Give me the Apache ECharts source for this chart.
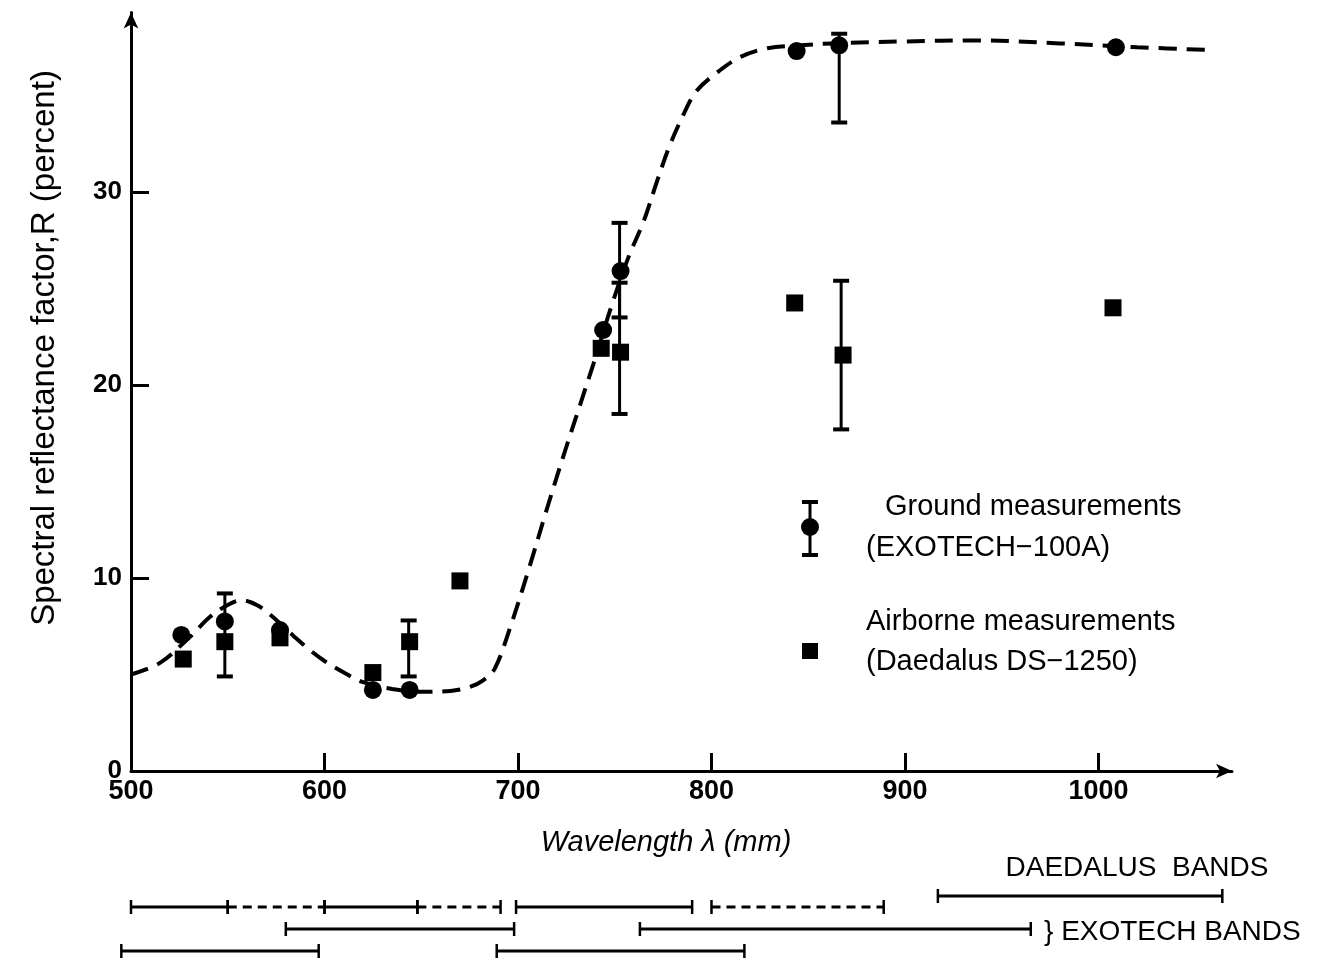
<!DOCTYPE html>
<html><head><meta charset="utf-8">
<script src="https://cdn.jsdelivr.net/npm/echarts@6/dist/echarts.min.js"></script>
<style>html,body{margin:0;padding:0;background:#fff}#c{width:1321px;height:963px}</style>
</head><body><div id="c"></div>
<script>
// ---------------- data ----------------
const curveWavelength  = [500, 515, 530, 541, 550, 557, 565, 572, 584, 592, 600, 610, 620, 635, 650, 665, 675, 682, 688, 696, 706, 715, 725, 739, 748, 757, 765, 772, 778, 785, 792, 803, 815, 829, 846, 863, 900, 937, 980, 1020, 1060];
const curveReflectance = [5.0, 5.6, 6.9, 8.0, 8.6, 8.85, 8.6, 8.1, 7.0, 6.3, 5.7, 5.1, 4.6, 4.25, 4.1, 4.15, 4.35, 4.7, 5.3, 7.45, 10.6, 13.6, 16.8, 21.1, 24.0, 26.6, 28.5, 30.6, 32.3, 33.9, 35.2, 36.2, 37.0, 37.45, 37.6, 37.7, 37.8, 37.85, 37.7, 37.5, 37.35];

const groundWavelength  = [526, 548.5, 577, 625, 644, 744, 753, 844, 866, 1009];
const groundReflectance = [7.05, 7.75, 7.3, 4.2, 4.2, 22.85, 25.9, 37.3, 37.6, 37.5];

const airborneWavelength  = [527, 548.5, 577, 625, 644, 670, 743, 753, 843, 868, 1007.5];
const airborneReflectance = [5.8, 6.7, 6.9, 5.1, 6.7, 9.85, 21.9, 21.7, 24.25, 21.55, 24.0];

const errorWavelength = [548.5, 643.5, 752.5, 752.5, 866, 867];
const errorLow        = [4.9, 4.9, 18.5, 23.5, 33.6, 17.7];
const errorHigh       = [9.2, 7.8, 28.4, 25.3, 38.2, 25.4];

const xTickLabels = [500, 600, 700, 800, 900, 1000];
const yTickLabels = [0, 10, 20, 30];

const daedalusStart = [500, 550, 600, 648, 699, 800, 917];
const daedalusEnd   = [550, 600, 648, 691, 790, 889, 1064];
const daedalusRow   = [1, 1, 1, 1, 1, 1, 0.5];

const exotechStart = [580, 763, 495, 689];
const exotechEnd   = [698, 965, 597, 817];
const exotechRow   = [2, 2, 3, 3];

// ---------------- styles ----------------
const daedalusLineType = ['solid', 'dashed', 'solid', 'dashed', 'solid', 'dashed', 'solid'];
const FONT = 'Liberation Sans, Arial, sans-serif';
const BLACK = '#000';

const chart = echarts.init(document.getElementById('c'), null, {renderer: 'canvas'});

const curveData = curveWavelength.map((x, i) => [x, curveReflectance[i]]);
const groundData = groundWavelength.map((x, i) => [x, groundReflectance[i]]);
const airborneData = airborneWavelength.map((x, i) => [x, airborneReflectance[i]]);
const errorData = errorWavelength.map((x, i) => [x, errorLow[i], errorHigh[i]]);
const bandData = [];
daedalusStart.forEach((s, i) => bandData.push([s, daedalusEnd[i], daedalusRow[i], daedalusLineType[i] === 'dashed' ? 1 : 0]));
exotechStart.forEach((s, i) => bandData.push([s, exotechEnd[i], exotechRow[i], 0]));

const XMIN = 500, XMAX = 1069;

function renderError(params, api) {
  const x = api.value(0);
  const lo = api.coord([x, api.value(1)]);
  const hi = api.coord([x, api.value(2)]);
  const cw = 8;
  const st = {stroke: BLACK, lineWidth: 3};
  return {type: 'group', children: [
    {type: 'line', shape: {x1: lo[0], y1: lo[1], x2: hi[0], y2: hi[1]}, style: st},
    {type: 'line', shape: {x1: lo[0] - cw, y1: lo[1], x2: lo[0] + cw, y2: lo[1]}, style: {stroke: BLACK, lineWidth: 4}},
    {type: 'line', shape: {x1: hi[0] - cw, y1: hi[1], x2: hi[0] + cw, y2: hi[1]}, style: {stroke: BLACK, lineWidth: 4}}
  ]};
}

function renderBand(params, api) {
  const a = api.coord([api.value(0), api.value(2)]);
  const b = api.coord([api.value(1), api.value(2)]);
  const dashed = api.value(3) === 1;
  const th = 7;
  return {type: 'group', children: [
    {type: 'line', shape: {x1: a[0], y1: a[1], x2: b[0], y2: b[1]},
      style: {stroke: BLACK, lineWidth: 3, lineDash: dashed ? [9, 6] : null}},
    {type: 'line', shape: {x1: a[0], y1: a[1] - th, x2: a[0], y2: a[1] + th}, style: {stroke: BLACK, lineWidth: 2.5}},
    {type: 'line', shape: {x1: b[0], y1: b[1] - th, x2: b[0], y2: b[1] + th}, style: {stroke: BLACK, lineWidth: 2.5}}
  ]};
}

const option = {
  backgroundColor: '#fff',
  animation: false,
  grid: [
    {left: 131, right: 1321 - 1232, top: 12.5, bottom: 963 - 771, containLabel: false},
    {left: 131, right: 1321 - 1232, top: 885, height: 77}
  ],
  xAxis: [
    {
      type: 'value', gridIndex: 0, min: XMIN, max: XMAX, interval: 100,
      axisLine: {show: true, lineStyle: {color: BLACK, width: 3}, symbol: ['none', 'arrow'], symbolSize: [11, 16]},
      axisTick: {show: true, inside: true, length: 18, lineStyle: {color: BLACK, width: 3}, customValues: [600, 700, 800, 900, 1000]},
      axisLabel: {customValues: xTickLabels, color: BLACK, fontSize: 27, fontWeight: 'bold', fontFamily: FONT, margin: 7,
        formatter: v => String(v)},
      splitLine: {show: false}
    },
    {
      type: 'value', gridIndex: 1, min: XMIN, max: XMAX, show: false
    }
  ],
  yAxis: [
    {
      type: 'value', gridIndex: 0, min: 0, max: 39.3, interval: 10,
      axisLine: {show: true, lineStyle: {color: BLACK, width: 3}, symbol: ['none', 'arrow'], symbolSize: [11, 16]},
      axisTick: {show: true, inside: true, length: 18, lineStyle: {color: BLACK, width: 3}, customValues: [10, 20, 30]},
      axisLabel: {customValues: yTickLabels, color: BLACK, fontSize: 26, fontWeight: 'bold', fontFamily: FONT, margin: 9,
        formatter: v => String(v)},
      splitLine: {show: false}
    },
    {
      type: 'value', gridIndex: 1, min: 0, max: 3.5, inverse: true, show: false
    }
  ],
  graphic: [
    {type: 'text', x: 45, y: 348, rotation: Math.PI / 2,
      style: {text: 'Spectral reflectance factor,R (percent)', font: '33px ' + FONT, fill: BLACK, align: 'center', verticalAlign: 'middle'}},
    {type: 'text', x: 666, y: 843,
      style: {text: 'Wavelength \u03bb (mm)', font: 'italic 29px ' + FONT, fill: BLACK, align: 'center', verticalAlign: 'middle'}},
    // legend keys
    {type: 'line', shape: {x1: 810, y1: 502, x2: 810, y2: 555}, style: {stroke: BLACK, lineWidth: 3}},
    {type: 'line', shape: {x1: 802, y1: 502, x2: 818, y2: 502}, style: {stroke: BLACK, lineWidth: 4}},
    {type: 'line', shape: {x1: 802, y1: 555, x2: 818, y2: 555}, style: {stroke: BLACK, lineWidth: 4}},
    {type: 'circle', shape: {cx: 810, cy: 527, r: 9}, style: {fill: BLACK}},
    {type: 'rect', shape: {x: 802, y: 643, width: 16, height: 16}, style: {fill: BLACK}},
    {type: 'text', x: 885, y: 507, style: {text: 'Ground measurements', font: '29px ' + FONT, fill: BLACK, align: 'left', verticalAlign: 'middle'}},
    {type: 'text', x: 866, y: 548, style: {text: '(EXOTECH\u2212100A)', font: '29px ' + FONT, fill: BLACK, align: 'left', verticalAlign: 'middle'}},
    {type: 'text', x: 866, y: 622, style: {text: 'Airborne measurements', font: '29px ' + FONT, fill: BLACK, align: 'left', verticalAlign: 'middle'}},
    {type: 'text', x: 866, y: 662, style: {text: '(Daedalus DS\u22121250)', font: '29px ' + FONT, fill: BLACK, align: 'left', verticalAlign: 'middle'}},
    {type: 'text', x: 1137, y: 868, style: {text: 'DAEDALUS  BANDS', font: '28px ' + FONT, fill: BLACK, align: 'center', verticalAlign: 'middle'}},
    {type: 'text', x: 1044, y: 932, style: {text: '} EXOTECH BANDS', font: '28px ' + FONT, fill: BLACK, align: 'left', verticalAlign: 'middle'}}
  ],
  series: [
    {
      name: 'curve', type: 'line', xAxisIndex: 0, yAxisIndex: 0, data: curveData,
      smooth: 0.35, symbol: 'none', z: 2,
      lineStyle: {color: BLACK, width: 4, type: [18, 10]}
    },
    {
      name: 'errors', type: 'custom', xAxisIndex: 0, yAxisIndex: 0, data: errorData,
      renderItem: renderError, z: 3, silent: true
    },
    {
      name: 'Ground measurements', type: 'scatter', xAxisIndex: 0, yAxisIndex: 0, data: groundData,
      symbol: 'circle', symbolSize: 18, itemStyle: {color: BLACK, opacity: 1}, z: 4
    },
    {
      name: 'Airborne measurements', type: 'scatter', xAxisIndex: 0, yAxisIndex: 0, data: airborneData,
      symbol: 'rect', symbolSize: 17, itemStyle: {color: BLACK, opacity: 1}, z: 4
    },
    {
      name: 'bands', type: 'custom', xAxisIndex: 1, yAxisIndex: 1, data: bandData,
      renderItem: renderBand, silent: true, clip: false
    }
  ]
};
chart.setOption(option);
</script>
</body></html>
